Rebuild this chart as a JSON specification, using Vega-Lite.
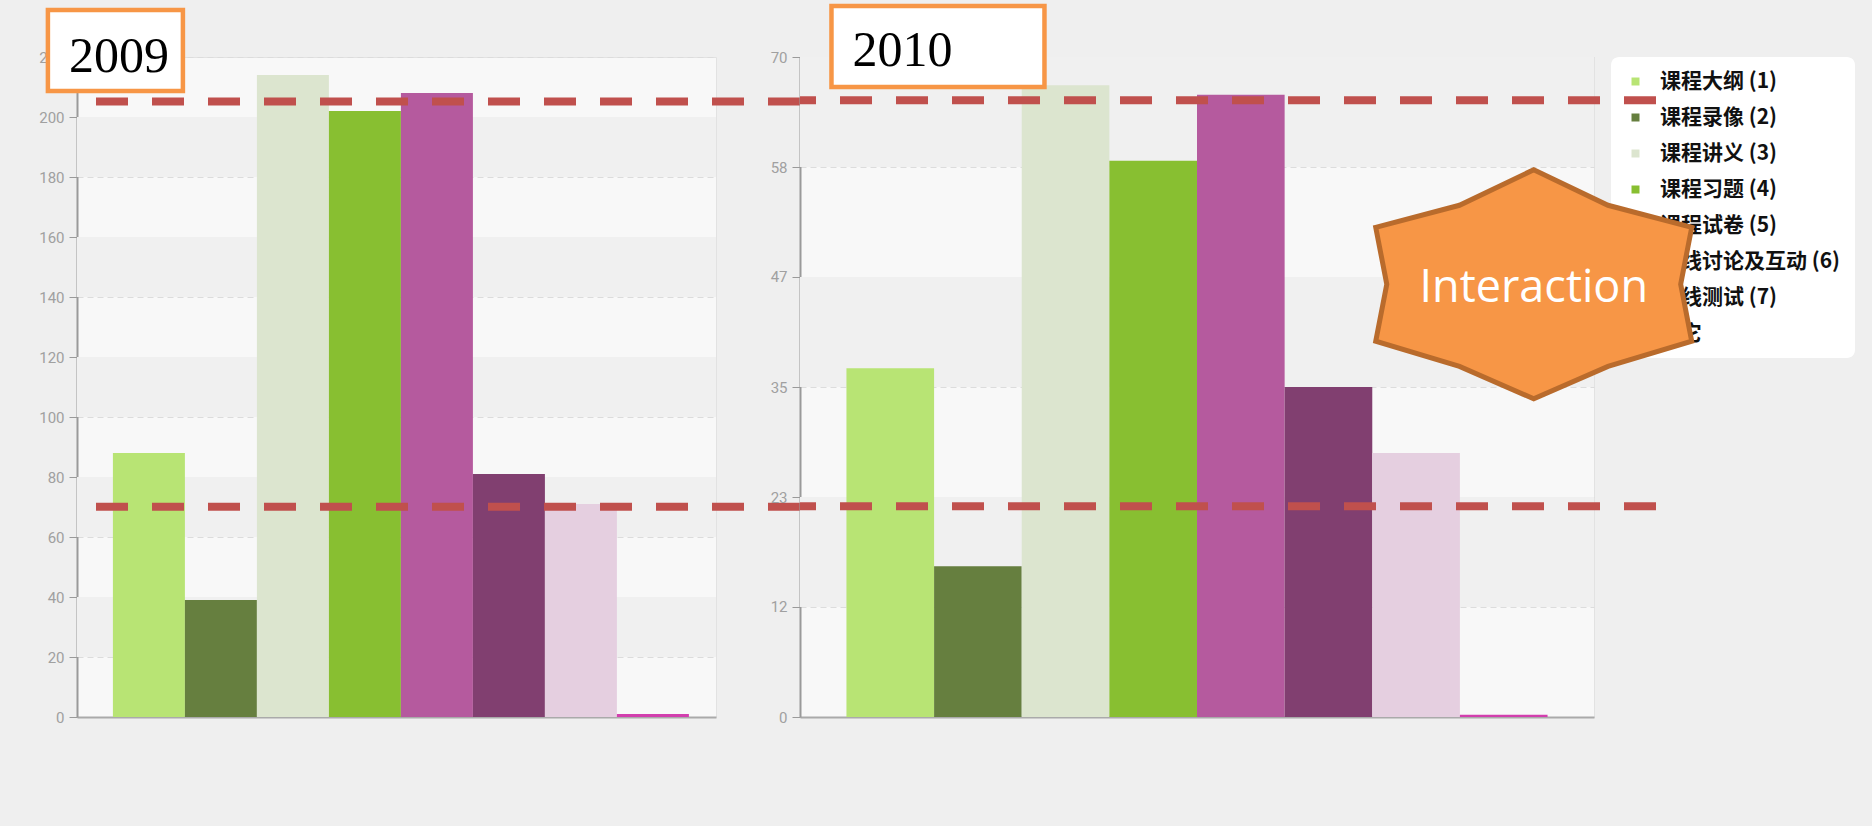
{
  "$schema": "https://vega.github.io/schema/vega-lite/v6.json",
  "background": "#efefef",
  "padding": {"left": 38, "top": -4, "right": 26, "bottom": 117},
  "autosize": {"type": "pad"},
  "bounds": "flush",
  "spacing": 84,
  "config": {
    "view": {"fill": "#f8f8f8", "stroke": "#e2e2e2"},
    "axisY": {"grid": true, "gridDash": [6, 4], "gridColor": "#dcdcdc", "domainColor": "#9a9a9a", "domainWidth": 2, "tickColor": "#9a9a9a", "tickSize": 8, "labelColor": "#a0a0a0", "labelFontSize": 15, "labelFont": "Roboto", "labelPadding": 5, "title": null},
    "axisX": {"labels": false, "ticks": false, "title": null, "domainColor": "#aaaaaa", "domainWidth": 2, "grid": false},
    "legend": {"orient": "none", "legendX": 1534, "legendY": 0, "title": null, "fillColor": "white", "cornerRadius": 8, "padding": 14, "symbolType": "square", "symbolSize": 64, "symbolStrokeWidth": 0, "labelFontSize": 21, "labelFont": "Noto Sans CJK SC", "labelFontWeight": "bold", "labelColor": "#111111", "rowPadding": 14, "labelOffset": 14, "labelLimit": 400}
  },
  "datasets": {
    "counts": [
      {"year": "2009", "item": "课程大纲 (1)", "count": 88},
      {"year": "2009", "item": "课程录像 (2)", "count": 39},
      {"year": "2009", "item": "课程讲义 (3)", "count": 214},
      {"year": "2009", "item": "课程习题 (4)", "count": 202},
      {"year": "2009", "item": "课程试卷 (5)", "count": 208},
      {"year": "2009", "item": "在线讨论及互动 (6)", "count": 81},
      {"year": "2009", "item": "在线测试 (7)", "count": 71},
      {"year": "2009", "item": "其它", "count": 1},
      {"year": "2010", "item": "课程大纲 (1)", "count": 37},
      {"year": "2010", "item": "课程录像 (2)", "count": 16},
      {"year": "2010", "item": "课程讲义 (3)", "count": 67},
      {"year": "2010", "item": "课程习题 (4)", "count": 59},
      {"year": "2010", "item": "课程试卷 (5)", "count": 66},
      {"year": "2010", "item": "在线讨论及互动 (6)", "count": 35},
      {"year": "2010", "item": "在线测试 (7)", "count": 28},
      {"year": "2010", "item": "其它", "count": 0.25}
    ],
    "bands": [
      {"year": "2009", "lo": 20, "hi": 40},
      {"year": "2009", "lo": 60, "hi": 80},
      {"year": "2009", "lo": 100, "hi": 120},
      {"year": "2009", "lo": 140, "hi": 160},
      {"year": "2009", "lo": 180, "hi": 200},
      {"year": "2010", "lo": 11.667, "hi": 23.333},
      {"year": "2010", "lo": 35, "hi": 46.667},
      {"year": "2010", "lo": 58.333, "hi": 70}
    ],
    "guides": [
      {"year": "2009", "level": 205.2},
      {"year": "2009", "level": 70.1},
      {"year": "2010", "level": 65.4},
      {"year": "2010", "level": 22.35}
    ],
    "labels": [
      {"key": "2009", "text": "2009"},
      {"key": "2010", "text": "2010"},
      {"key": "hex", "text": "Interaction"}
    ]
  },
  "resolve": {"scale": {"x": "independent", "y": "independent", "color": "shared"}, "legend": {"color": "independent"}},
  "hconcat": [
    {
      "width": 639,
      "height": 660,
      "layer": [
        {
          "data": {"name": "bands"},
          "transform": [{"filter": "datum.year === '2009'"}],
          "mark": {"type": "rect", "color": "#f0f0f0"},
          "encoding": {
            "y": {"field": "lo", "type": "quantitative", "scale": {"domain": [0, 220], "nice": false}},
            "y2": {"field": "hi"}
          }
        },
        {
          "data": {"name": "counts"},
          "transform": [{"filter": "datum.year === '2009'"}],
          "mark": {"type": "bar"},
          "encoding": {
            "x": {"field": "item", "type": "nominal", "sort": null, "scale": {"paddingInner": 0, "paddingOuter": 0.4375, "align": 0.57}},
            "y": {"field": "count", "type": "quantitative", "scale": {"domain": [0, 220], "nice": false}, "axis": {"values": [0, 20, 40, 60, 80, 100, 120, 140, 160, 180, 200, 220], "title": null}},
            "color": {"field": "item", "type": "nominal", "sort": null,
              "scale": {"domain": ["课程大纲 (1)", "课程录像 (2)", "课程讲义 (3)", "课程习题 (4)", "课程试卷 (5)", "在线讨论及互动 (6)", "在线测试 (7)", "其它"],
                        "range": ["#b8e474", "#667f3f", "#dce5cf", "#88bf31", "#b55a9e", "#813f70", "#e5cfe0", "#d23fae"]}}
          }
        },
        {
          "data": {"name": "guides"},
          "transform": [{"filter": "datum.year === '2009'"}],
          "mark": {"type": "rule", "color": "#c0504d", "strokeWidth": 8, "strokeDash": [32, 24], "xOffset": 84},
          "encoding": {"y": {"field": "level", "type": "quantitative"}}
        },
        {
          "data": {"name": "labels"},
          "transform": [{"filter": "datum.key === '2009'"}],
          "mark": {"type": "point", "shape": "M-1,-0.6L1,-0.6L1,0.6L-1,0.6Z", "size": 18225, "filled": true, "fill": "white", "stroke": "#f79646", "strokeWidth": 4.5, "opacity": 1, "xOffset": -33.5, "yOffset": -6.5},
          "encoding": {"x": {"datum": "课程大纲 (1)", "type": "nominal"}, "y": {"datum": 220, "type": "quantitative"}}
        },
        {
          "data": {"name": "labels"},
          "transform": [{"filter": "datum.key === '2009'"}],
          "mark": {"type": "text", "font": "Liberation Serif", "fontSize": 50, "color": "black", "align": "left", "baseline": "alphabetic", "xOffset": -80, "yOffset": 15},
          "encoding": {"x": {"datum": "课程大纲 (1)", "type": "nominal"}, "y": {"datum": 220, "type": "quantitative"}, "text": {"field": "text"}}
        }
      ]
    },
    {
      "width": 794,
      "height": 660,
      "layer": [
        {
          "data": {"name": "bands"},
          "transform": [{"filter": "datum.year === '2010'"}],
          "mark": {"type": "rect", "color": "#f0f0f0"},
          "encoding": {
            "y": {"field": "lo", "type": "quantitative", "scale": {"domain": [0, 70], "nice": false}},
            "y2": {"field": "hi"}
          }
        },
        {
          "data": {"name": "counts"},
          "transform": [{"filter": "datum.year === '2010'"}],
          "mark": {"type": "bar"},
          "encoding": {
            "x": {"field": "item", "type": "nominal", "sort": null, "scale": {"paddingInner": 0, "paddingOuter": 0.53, "align": 0.5}},
            "y": {"field": "count", "type": "quantitative", "scale": {"domain": [0, 70], "nice": false}, "axis": {"values": [0, 11.667, 23.333, 35, 46.667, 58.333, 70], "format": ".0f", "title": null}},
            "color": {"field": "item", "type": "nominal", "sort": null, "legend": null,
              "scale": {"domain": ["课程大纲 (1)", "课程录像 (2)", "课程讲义 (3)", "课程习题 (4)", "课程试卷 (5)", "在线讨论及互动 (6)", "在线测试 (7)", "其它"],
                        "range": ["#b8e474", "#667f3f", "#dce5cf", "#88bf31", "#b55a9e", "#813f70", "#e5cfe0", "#d23fae"]}}
          }
        },
        {
          "data": {"name": "guides"},
          "transform": [{"filter": "datum.year === '2010'"}],
          "mark": {"type": "rule", "color": "#c0504d", "strokeWidth": 8, "strokeDash": [32, 24], "xOffset": 62},
          "encoding": {"y": {"field": "level", "type": "quantitative"}}
        },
        {
          "data": {"name": "labels"},
          "transform": [{"filter": "datum.key === '2010'"}],
          "mark": {"type": "point", "shape": "M-1,-0.38L1,-0.38L1,0.38L-1,0.38Z", "size": 45369, "filled": true, "fill": "white", "stroke": "#f79646", "strokeWidth": 4.5, "opacity": 1, "xOffset": 47.7, "yOffset": -10.5},
          "encoding": {"x": {"datum": "课程大纲 (1)", "type": "nominal"}, "y": {"datum": 70, "type": "quantitative"}}
        },
        {
          "data": {"name": "labels"},
          "transform": [{"filter": "datum.key === '2010'"}],
          "mark": {"type": "text", "font": "Liberation Serif", "fontSize": 50, "color": "black", "align": "left", "baseline": "alphabetic", "xOffset": -37.8, "yOffset": 9},
          "encoding": {"x": {"datum": "课程大纲 (1)", "type": "nominal"}, "y": {"datum": 70, "type": "quantitative"}, "text": {"field": "text"}}
        },
        {
          "data": {"name": "labels"},
          "transform": [{"filter": "datum.key === 'hex'"}],
          "mark": {"type": "point", "shape": "M-1,-0.36L-0.47,-0.5L0,-0.725L0.47,-0.5L1,-0.36L0.93,0L1,0.36L0.47,0.52L0,0.725L-0.47,0.52L-1,0.36L-0.93,0Z", "size": 99856, "filled": true, "fill": "#f79646", "stroke": "#b96b2c", "strokeWidth": 5, "opacity": 1, "xOffset": 30, "yOffset": 1},
          "encoding": {"x": {"datum": "其它", "type": "nominal"}, "y": {"datum": 46, "type": "quantitative"}}
        },
        {
          "data": {"name": "labels"},
          "transform": [{"filter": "datum.key === 'hex'"}],
          "mark": {"type": "text", "font": "Open Sans", "fontSize": 45, "color": "white", "align": "center", "baseline": "alphabetic", "xOffset": 30, "yOffset": 19},
          "encoding": {"x": {"datum": "其它", "type": "nominal"}, "y": {"datum": 46, "type": "quantitative"}, "text": {"field": "text"}}
        }
      ]
    }
  ]
}
